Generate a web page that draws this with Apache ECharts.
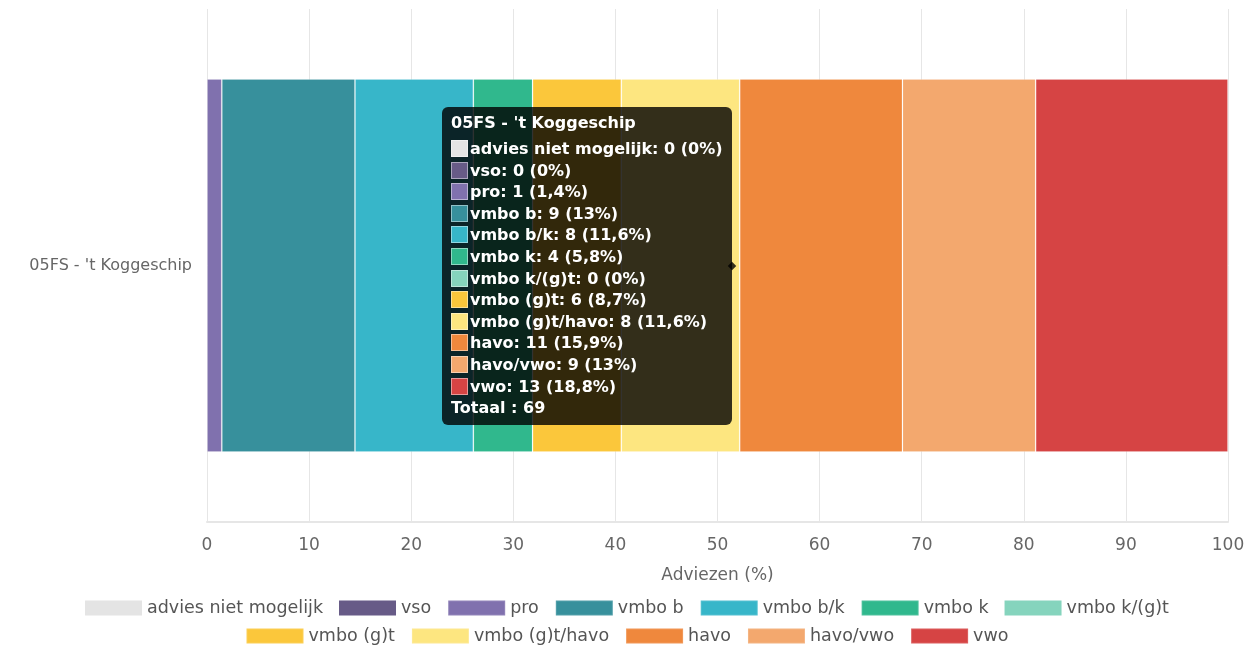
<!DOCTYPE html>
<html>
<head>
<meta charset="utf-8">
<script src="https://cdn.jsdelivr.net/npm/echarts@6/dist/echarts.min.js"></script>
<style>
  html, body { margin: 0; padding: 0; background: #fff; }
  #chart { width: 1254px; height: 645px; }
</style>
</head>
<body>
<div id="chart"></div>
<script>
// categories / series
var schools = ["05FS - 't Koggeschip"];
var adviesNames = ['advies niet mogelijk', 'vso', 'pro', 'vmbo b', 'vmbo b/k', 'vmbo k',
  'vmbo k/(g)t', 'vmbo (g)t', 'vmbo (g)t/havo', 'havo', 'havo/vwo', 'vwo'];
var adviesCounts = [0, 0, 1, 9, 8, 4, 0, 6, 8, 11, 9, 13];
var adviesColors = ['#e4e4e4', '#675b87', '#8071ae', '#37909c', '#37b6c9', '#30b88d',
  '#85d4bd', '#fbc73b', '#fde680', '#ef883d', '#f3a86e', '#d64444'];
var xTicks = [0, 10, 20, 30, 40, 50, 60, 70, 80, 90, 100];

var FONT = '"DejaVu Sans", sans-serif';
var total = adviesCounts.reduce(function (a, b) { return a + b; }, 0);

function fmtPct(v) {
  var r = Math.round(v * 10) / 10;
  return String(r).replace('.', ',') + '%';
}

function tipHtml() {
  var html = '<div style="line-height:22px;margin-bottom:4px">' + schools[0] + '</div>';
  adviesNames.forEach(function (n, i) {
    html += '<div style="line-height:21.6px;white-space:nowrap">' +
      '<span style="display:inline-block;width:17px;height:17px;vertical-align:-3px;margin-right:2px;' +
      'box-sizing:border-box;border:1px solid rgba(255,255,255,0.45);background:' + adviesColors[i] + '"></span>' +
      n + ': ' + adviesCounts[i] + ' (' + fmtPct(adviesCounts[i] / total * 100) + ')</div>';
  });
  html += '<div style="line-height:21.6px">Totaal : ' + total + '</div>';
  return html;
}

var series = adviesNames.map(function (n, i) {
  return {
    name: n,
    type: 'bar',
    stack: 'total',
    barWidth: '72.7%',
    itemStyle: {
      color: adviesColors[i],
      borderColor: 'rgba(255,255,255,0.15)',
      borderWidth: adviesCounts[i] ? 1 : 0
    },
    emphasis: { disabled: true },
    data: [adviesCounts[i] / total * 100]
  };
});

var legendText = { color: '#555', fontSize: 17.5, fontFamily: FONT };

var chart = echarts.init(document.getElementById('chart'));
chart.setOption({
  animation: false,
  textStyle: { fontFamily: FONT },
  grid: { left: 207, right: 26, top: 9, bottom: 123 },
  xAxis: {
    type: 'value',
    min: 0, max: 100, interval: 10,
    name: 'Adviezen (%)',
    nameLocation: 'middle',
    nameGap: 45,
    nameTextStyle: { color: '#666', fontSize: 17 },
    axisLine: { show: true, lineStyle: { color: '#e6e6e6', width: 2 } },
    axisTick: { show: false },
    axisLabel: { color: '#666', fontSize: 17, margin: 15,
      formatter: function (v) { return xTicks.indexOf(v) >= 0 ? String(v) : ''; } },
    splitLine: { show: true, lineStyle: { color: '#e6e6e6' } }
  },
  yAxis: {
    type: 'category',
    data: schools,
    axisLine: { show: false },
    axisTick: { show: false },
    axisLabel: { color: '#666', fontSize: 16, margin: 15 }
  },
  legend: [{
    data: adviesNames.slice(0, 7),
    left: 'center', top: 594,
    itemWidth: 57, itemHeight: 15, itemGap: 16, textGap: 10,
    icon: 'rect',
    textStyle: legendText
  }, {
    data: adviesNames.slice(7),
    left: 'center', top: 622,
    itemWidth: 57, itemHeight: 15, itemGap: 16, textGap: 10,
    icon: 'rect',
    textStyle: legendText
  }],
  tooltip: {
    trigger: 'item',
    triggerOn: 'none',
    alwaysShowContent: true,
    position: 'left',
    backgroundColor: 'rgba(0,0,0,0.8)',
    borderColor: 'rgba(0,0,0,0.8)',
    borderWidth: 0,
    padding: [5, 9, 6, 9],
    extraCssText: 'border-radius:6px;box-shadow:none;',
    textStyle: { color: '#fff', fontSize: 16, fontWeight: 'bold', fontFamily: FONT },
    formatter: tipHtml
  },
  series: series
});

chart.dispatchAction({ type: 'showTip', seriesIndex: 9, dataIndex: 0 });
</script>
</body>
</html>
